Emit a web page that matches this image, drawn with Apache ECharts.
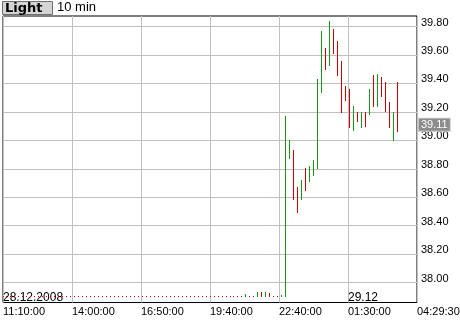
<!DOCTYPE html>
<html><head><meta charset="utf-8">
<script src="https://cdn.jsdelivr.net/npm/echarts@6/dist/echarts.min.js"></script>
<style>html,body{margin:0;padding:0;background:#fff}#c{width:460px;height:320px}</style>
</head><body><div id="c"></div>
<script>
const titleText = 'Light';
const periodText = '10 min';
const times = [
'11:10','11:20','11:30','11:40','11:50','12:00','12:10','12:20','12:30','12:40',
'12:50','13:00','13:10','13:20','13:30','13:40','13:50','14:00','14:10','14:20',
'14:30','14:40','14:50','15:00','15:10','15:20','15:30','15:40','15:50','16:00',
'16:10','16:20','16:30','16:40','16:50','17:00','17:10','17:20','17:30','17:40',
'17:50','18:00','18:10','18:20','18:30','18:40','18:50','19:00','19:10','19:20',
'19:30','19:40','19:50','20:00','20:10','20:20','20:30','20:40','20:50','21:00',
'21:10','21:20','21:30','21:40','21:50','22:00','22:10','22:20','22:30','22:40',
'22:50','23:00','23:10','23:20','23:30','23:40','23:50','00:00','00:10','00:20',
'00:30','00:40','00:50','01:00','01:10','01:20','01:30','01:40','01:50','02:00',
'02:10','02:20','02:30','02:40','02:50','03:00','03:10','03:20','03:30','03:40'];
const opens = [
37.90,37.90,37.90,37.90,37.90,37.90,37.90,37.90,37.90,37.90,
37.90,37.90,37.90,37.90,37.90,37.90,37.90,37.90,37.90,37.90,
37.90,37.90,37.90,37.90,37.90,37.90,37.90,37.90,37.90,37.90,
37.90,37.90,37.90,37.90,37.90,37.90,37.90,37.90,37.90,37.90,
37.90,37.90,37.90,37.90,37.90,37.90,37.90,37.90,37.90,37.90,
37.90,37.90,37.90,37.90,37.90,37.90,37.90,37.90,37.90,37.90,
37.90,37.90,37.90,37.90,37.90,37.93,37.90,37.925,37.90,37.90,
37.90,37.91,38.88,38.92,38.66,38.59,38.80,38.72,38.76,38.81,
39.34,39.64,39.53,39.78,39.68,39.55,39.37,39.35,39.08,39.19,
39.10,39.19,39.19,39.45,39.24,39.44,39.40,39.26,39.01,39.40];
const highs = [
37.90,37.90,37.90,37.90,37.90,37.90,37.90,37.90,37.90,37.90,
37.90,37.90,37.90,37.90,37.90,37.90,37.90,37.90,37.90,37.90,
37.90,37.90,37.90,37.90,37.90,37.90,37.90,37.90,37.90,37.90,
37.90,37.90,37.90,37.90,37.90,37.90,37.90,37.90,37.90,37.90,
37.90,37.90,37.90,37.90,37.90,37.90,37.90,37.90,37.90,37.90,
37.90,37.90,37.90,37.90,37.90,37.90,37.90,37.90,37.90,37.90,
37.90,37.915,37.90,37.90,37.93,37.93,37.93,37.925,37.90,37.90,
37.91,39.17,39.00,38.925,38.665,38.72,38.805,38.815,38.855,39.43,
39.765,39.645,39.835,39.78,39.695,39.555,39.375,39.355,39.235,39.195,
39.195,39.195,39.36,39.455,39.46,39.445,39.405,39.265,39.195,39.41];
const lows = [
37.90,37.90,37.90,37.90,37.90,37.90,37.90,37.90,37.90,37.90,
37.90,37.90,37.90,37.90,37.90,37.90,37.90,37.90,37.90,37.90,
37.90,37.90,37.90,37.90,37.90,37.90,37.90,37.90,37.90,37.90,
37.90,37.90,37.90,37.90,37.90,37.90,37.90,37.90,37.90,37.90,
37.90,37.90,37.90,37.90,37.90,37.90,37.90,37.90,37.90,37.90,
37.90,37.90,37.90,37.90,37.90,37.90,37.90,37.90,37.90,37.90,
37.90,37.90,37.90,37.90,37.90,37.90,37.90,37.90,37.90,37.90,
37.90,37.90,38.87,38.585,38.49,38.585,38.645,38.71,38.755,38.80,
39.335,39.50,39.525,39.61,39.455,39.195,39.28,39.09,39.07,39.13,
39.09,39.095,39.185,39.235,39.235,39.305,39.205,39.09,39.00,39.06];
const closes = [
37.90,37.90,37.90,37.90,37.90,37.90,37.90,37.90,37.90,37.90,
37.90,37.90,37.90,37.90,37.90,37.90,37.90,37.90,37.90,37.90,
37.90,37.90,37.90,37.90,37.90,37.90,37.90,37.90,37.90,37.90,
37.90,37.90,37.90,37.90,37.90,37.90,37.90,37.90,37.90,37.90,
37.90,37.90,37.90,37.90,37.90,37.90,37.90,37.90,37.90,37.90,
37.90,37.90,37.90,37.90,37.90,37.90,37.90,37.90,37.90,37.90,
37.90,37.91,37.90,37.90,37.93,37.90,37.93,37.90,37.90,37.90,
37.91,39.10,38.99,38.60,38.50,38.71,38.65,38.81,38.85,39.42,
39.75,39.51,39.82,39.62,39.46,39.20,39.28,39.10,39.23,39.14,
39.19,39.10,39.35,39.24,39.45,39.31,39.21,39.09,39.19,39.11];
const yTicks = [38.00,38.20,38.40,38.60,38.80,39.00,39.20,39.40,39.60,39.80];
const xTickLabels = ['11:10:00','14:00:00','16:50:00','19:40:00','22:40:00','01:30:00','04:29:30'];
const dateLabels = ['28.12.2008','','','','','29.12',''];
const lastPrice = 39.11;
const yMin = 37.86, yMax = 39.874;

function minutesFrom(start, t) {
  const a = start.split(':').map(Number), b = t.split(':').map(Number);
  let m = (b[0]*60 + b[1] + (b[2]||0)/60) - (a[0]*60 + a[1] + (a[2]||0)/60);
  if (m < 0) m += 1440;
  return m;
}
const xMax = minutesFrom(xTickLabels[0], xTickLabels[xTickLabels.length-1]);
const xStep = xMax / (xTickLabels.length - 1);
const data = times.map((t,i)=>[minutesFrom(xTickLabels[0], t), opens[i], closes[i], lows[i], highs[i]]);

const UP = '#129a12', DOWN = '#cc0000';
const FONT = 'Liberation Sans';
const chart = echarts.init(document.getElementById('c'), null, {renderer:'canvas'});
chart.setOption({
  animation: false,
  backgroundColor: '#fff',
  grid: {left:3, top:16, width:414, height:286.5, show:true, borderColor:'#000', borderWidth:1,
         backgroundColor:'#fff', containLabel:false, outerBoundsMode:'none'},
  graphic: [
    {type:'rect', shape:{x:2.5, y:1.5, width:50, height:13}, style:{fill:'#d4d4d4', stroke:'#707070', lineWidth:1}},
    {type:'text', x:5, y:2, style:{text:titleText, font:'bold 13px "DejaVu Sans"', fill:'#000'}},
    {type:'text', x:57, y:1, style:{text:periodText, font:'13px "Liberation Sans"', fill:'#000'}}
  ],
  xAxis: [
    {type:'value', min:0, max:xMax, interval:xStep,
     axisLine:{show:false}, axisTick:{show:false},
     splitLine:{show:true, lineStyle:{color:'#c0c0c0', width:1}},
     axisLabel:{show:true, align:'left', margin:4, color:'#000', fontFamily:FONT, fontSize:11,
       showMinLabel:true, showMaxLabel:true,
       formatter:v=>xTickLabels[Math.round(v/xStep)] || ''}},
    {type:'value', position:'bottom', min:0, max:xMax, interval:xStep,
     axisLine:{show:false}, axisTick:{show:false}, splitLine:{show:false},
     axisLabel:{show:true, inside:true, align:'left', margin:-1, color:'#000', fontFamily:FONT, fontSize:12,
       showMinLabel:true, showMaxLabel:true,
       formatter:v=>dateLabels[Math.round(v/xStep)] || ''}}
  ],
  yAxis: {type:'value', position:'right', min:yMin, max:yMax, scale:true,
    axisLine:{show:false}, axisTick:{show:false, customValues:yTicks},
    splitLine:{show:true, lineStyle:{color:'#c0c0c0', width:1}},
    axisLabel:{show:true, customValues:yTicks, margin:4, color:'#000', fontFamily:FONT, fontSize:11,
      verticalAlign:'bottom', lineHeight:8, formatter:v=>v.toFixed(2)}},
  series: [{
    type:'custom', xAxisIndex:0, yAxisIndex:0, data:data,
    encode:{x:0, y:[1,2,3,4]},
    renderItem:(params, api)=>{
      const t = api.value(0), o = api.value(1), c = api.value(2), l = api.value(3), h = api.value(4);
      const pH = api.coord([t, h]), pL = api.coord([t, l]);
      const x = Math.floor(pH[0]);
      const y1 = Math.floor(pH[1]);
      const y2 = Math.max(y1 + 1, Math.ceil(pL[1]));
      return {type:'rect', shape:{x:x, y:y1, width:1, height:y2 - y1},
              style:{fill: c > o ? UP : DOWN}};
    },
    markLine:{silent:true, symbol:['none','none'],
      lineStyle:{color:'rgba(0,0,0,0)', width:1, type:'solid'},
      data:[{yAxis:lastPrice}],
      label:{show:true, position:'end', distance:2, formatter:lastPrice.toFixed(2),
        backgroundColor:'#8c8c8c', color:'#fff', borderColor:'#c8c8c8', borderWidth:1,
        padding:[1,2,0,2], fontFamily:FONT, fontSize:11}}
  }]
});
</script></body></html>
